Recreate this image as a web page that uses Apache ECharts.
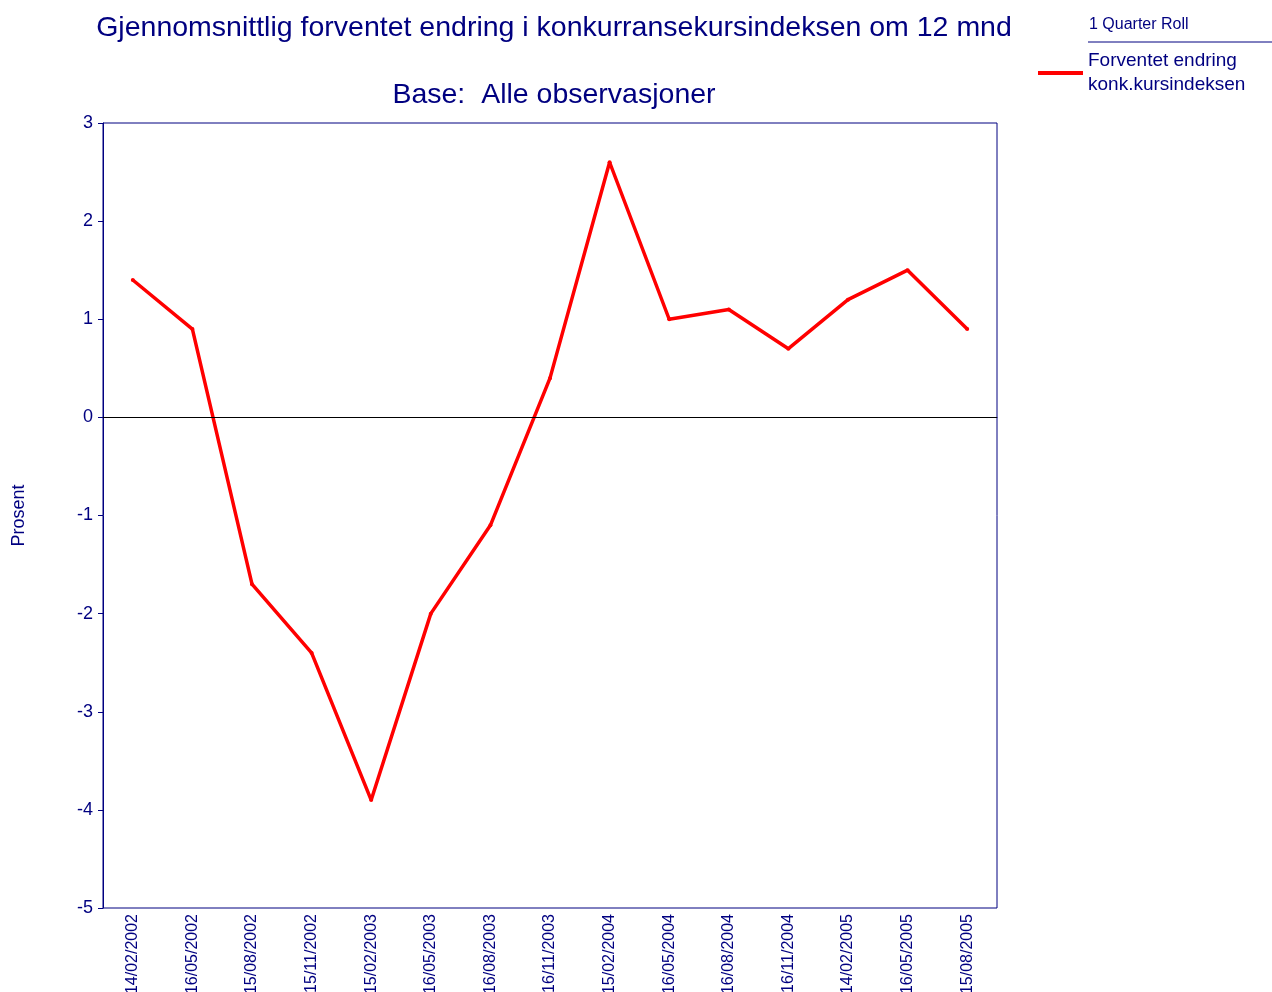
<!DOCTYPE html>
<html>
<head>
<meta charset="utf-8">
<script src="https://cdn.jsdelivr.net/npm/echarts@6/dist/echarts.min.js"></script>
<style>
  html, body { margin: 0; padding: 0; background: #fff; }
  #chart { width: 1272px; height: 992px; }
</style>
</head>
<body>
<div id="chart"></div>
<script>
const dates = [
  '14/02/2002', '16/05/2002', '15/08/2002', '15/11/2002', '15/02/2003',
  '16/05/2003', '16/08/2003', '16/11/2003', '15/02/2004', '16/05/2004',
  '16/08/2004', '16/11/2004', '14/02/2005', '16/05/2005', '15/08/2005'
]
const forventetEndring = [1.4, 0.9, -1.7, -2.4, -3.9, -2.0, -1.1, 0.4, 2.6, 1.0, 1.1, 0.7, 1.2, 1.5, 0.9]

const navy = '#000080'
const font = 'Liberation Sans, Arial, sans-serif'

const chart = echarts.init(document.getElementById('chart'))

chart.setOption({
  animation: false,
  textStyle: { fontFamily: font },
  title: [
    {
      text: 'Gjennomsnittlig forventet endring i konkurransekursindeksen om 12 mnd',
      left: 549,
      textAlign: 'center',
      top: 9,
      textStyle: { color: navy, fontSize: 28.5, fontWeight: 'normal', fontFamily: font }
    },
    {
      text: 'Base:  Alle observasjoner',
      left: 549,
      textAlign: 'center',
      top: 76,
      textStyle: { color: navy, fontSize: 28.5, fontWeight: 'normal', fontFamily: font }
    }
  ],
  legend: {
    left: 1038,
    top: 49,
    padding: 0,
    itemWidth: 45,
    itemHeight: 4,
    icon: 'rect',
    textStyle: { color: navy, fontSize: 19, lineHeight: 24, fontFamily: font },
    formatter: () => 'Forventet endring\nkonk.kursindeksen',
    data: ['Forventet endring konk.kursindeksen']
  },
  graphic: [
    {
      type: 'text',
      left: 1089,
      top: 17,
      style: { text: '1 Quarter Roll', fill: navy, fontSize: 16, fontFamily: font }
    },
    {
      type: 'line',
      shape: { x1: 1088, y1: 42, x2: 1272, y2: 42 },
      style: { stroke: navy, lineWidth: 1 }
    }
  ],
  grid: {
    left: 103,
    right: 275,
    top: 123,
    bottom: 84,
    show: true,
    borderColor: navy,
    borderWidth: 1,
    containLabel: false,
    outerBoundsMode: 'none'
  },
  xAxis: {
    type: 'category',
    data: dates,
    boundaryGap: true,
    axisLine: { lineStyle: { color: navy, width: 1 } },
    axisTick: { alignWithLabel: true, length: 5, lineStyle: { color: navy } },
    axisLabel: { rotate: 90, color: navy, fontSize: 16, margin: 6, fontFamily: font },
    splitLine: { show: false }
  },
  yAxis: {
    type: 'value',
    min: -5,
    max: 3,
    interval: 1,
    name: 'Prosent',
    nameLocation: 'middle',
    nameRotate: 90,
    nameGap: 75,
    nameTextStyle: { color: navy, fontSize: 18, fontFamily: font },
    axisLine: { show: true, lineStyle: { color: navy, width: 1 } },
    axisTick: { show: true, length: 5, lineStyle: { color: navy } },
    axisLabel: { color: navy, fontSize: 18, margin: 10, fontFamily: font },
    splitLine: { show: false }
  },
  series: [
    {
      name: 'Forventet endring konk.kursindeksen',
      type: 'line',
      data: forventetEndring,
      symbol: 'circle',
      symbolSize: 4,
      showSymbol: true,
      itemStyle: { color: '#ff0000' },
      lineStyle: { color: '#ff0000', width: 3.5 },
      markLine: {
        silent: true,
        symbol: 'none',
        label: { show: false },
        lineStyle: { color: '#000000', width: 1, type: 'solid' },
        data: [{ yAxis: 0 }]
      }
    }
  ]
})
</script>
</body>
</html>
